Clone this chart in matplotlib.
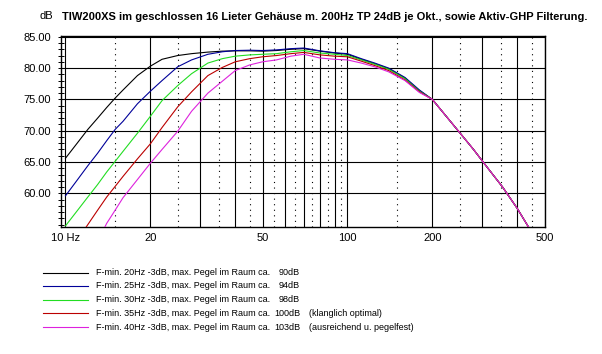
import matplotlib
matplotlib.use('Agg')
import matplotlib.pyplot as plt
from matplotlib.lines import Line2D
from matplotlib.ticker import FixedLocator, FixedFormatter, MultipleLocator, NullFormatter

W, H, DPI = 602, 354, 100

# frequency grid (Hz) shared by all curves
freq = [10, 11, 12, 13, 14, 15, 16, 18, 20, 22, 25, 28, 32, 36, 40, 45, 50, 56, 63, 70, 80, 90,
        100, 112, 125, 140, 160, 180, 200, 225, 250, 280, 315, 355, 400, 450, 500]

tail = [75.0, 72.2, 69.7, 67.0, 64.0, 61.0, 57.6, 53.8, 50.0]   # 200..500 Hz, all curves

spl_20 = [65.6, 68.0, 70.2, 72.0, 73.7, 75.2, 76.5, 78.8, 80.3, 81.4, 82.0, 82.3, 82.55, 82.7,
          82.75, 82.75, 82.7, 82.8, 83.0, 83.1, 82.7, 82.4,
          82.2, 81.4, 80.7, 79.9, 78.4, 76.4] + tail
spl_25 = [59.6, 62.1, 64.4, 66.4, 68.4, 70.2, 71.5, 74.3, 76.3, 78.0, 80.2, 81.3, 82.2, 82.6,
          82.8, 82.85, 82.8, 82.9, 83.1, 83.2, 82.75, 82.45,
          82.3, 81.5, 80.8, 80.0, 78.5, 76.5] + tail
spl_30 = [54.8, 57.2, 59.4, 61.4, 63.4, 65.1, 66.7, 69.6, 72.3, 74.8, 77.2, 79.1, 80.8, 81.5,
          81.9, 82.1, 82.2, 82.3, 82.6, 82.8, 82.4, 82.2,
          82.0, 81.3, 80.6, 79.8, 78.3, 76.3] + tail
spl_35 = [50.0, 52.5, 55.0, 57.3, 59.4, 61.1, 62.7, 65.5, 67.9, 70.5, 73.8, 76.2, 78.8, 80.1,
          81.0, 81.5, 81.8, 82.0, 82.3, 82.5, 82.1, 81.9,
          81.8, 81.1, 80.4, 79.6, 78.1, 76.2] + tail
spl_40 = [46.0, 48.0, 50.0, 52.3, 55.2, 57.3, 59.3, 62.2, 64.8, 67.0, 69.9, 73.1, 76.0, 77.9,
          79.6, 80.5, 81.0, 81.3, 81.9, 82.2, 81.6, 81.4,
          81.3, 80.8, 80.2, 79.4, 78.0, 76.1] + tail

curves = [spl_20, spl_25, spl_30, spl_35, spl_40]
colors = ['#000000', '#000099', '#22dd22', '#bb0000', '#dd22dd']
legend_main = ['F-min. 20Hz -3dB, max. Pegel im Raum ca.',
               'F-min. 25Hz -3dB, max. Pegel im Raum ca.',
               'F-min. 30Hz -3dB, max. Pegel im Raum ca.',
               'F-min. 35Hz -3dB, max. Pegel im Raum ca.',
               'F-min. 40Hz -3dB, max. Pegel im Raum ca.']
legend_level = ['90dB', '94dB', '98dB', '100dB', '103dB']
legend_note = ['', '', '', '(klanglich optimal)', '(ausreichend u. pegelfest)']

title = 'TIW200XS im geschlossen 16 Lieter Gehäuse m. 200Hz TP 24dB je Okt., sowie Aktiv-GHP Filterung.'

solid_f = [10, 20, 30, 40, 50, 60, 70, 80, 90, 100, 200, 300, 400, 500]
solid_lbl = ['10 Hz', '20', '', '', '50', '', '', '', '', '100', '200', '', '', '500']
dotted_f = [15, 25, 35, 45, 55, 65, 75, 85, 95, 150, 250, 350, 450]
y_major = [60, 65, 70, 75, 80, 85]

plt.rcParams['font.family'] = ['Liberation Sans', 'DejaVu Sans']

fig = plt.figure(figsize=(W / DPI, H / DPI), dpi=DPI)
fig.patch.set_facecolor('white')


def px(x0, y0, x1, y1):
    return [x0 / W, 1 - y1 / H, (x1 - x0) / W, (y1 - y0) / H]


ax = fig.add_axes(px(61, 35.5, 544.5, 227.3))
ax.set_xscale('log')
ax.set_xlim(9.64, 500)
ax.set_ylim(54.57, 85.2)

for f in dotted_f:
    ax.axvline(f, color='black', lw=0.8, ls=(0, (1, 4)), zorder=1)

for spl, c in zip(curves, colors):
    ax.plot(freq, spl, color=c, lw=0.8, zorder=3)

ax.xaxis.set_major_locator(FixedLocator(solid_f))
ax.xaxis.set_major_formatter(FixedFormatter(solid_lbl))
ax.xaxis.set_minor_locator(FixedLocator([]))
ax.xaxis.set_minor_formatter(NullFormatter())
ax.yaxis.set_major_locator(FixedLocator(y_major))
ax.yaxis.set_major_formatter(FixedFormatter(['%.2f' % v for v in y_major]))
ax.yaxis.set_minor_locator(MultipleLocator(1))
ax.grid(True, which='major', color='black', lw=0.8, zorder=2)
ax.tick_params(axis='x', length=0, pad=4, labelsize=8)
ax.tick_params(axis='y', which='both', direction='inout', length=4, width=0.7, pad=5, labelsize=8)
for s in ax.spines.values():
    s.set_linewidth(1.0)

fig.text(40 / W, 1 - 16 / H, 'dB', fontsize=8, ha='left', va='center')
t = fig.text(62 / W, 1 - 17.5 / H, title, fontsize=8, fontweight='bold', ha='left', va='center',
             family=['Liberation Sans Narrow', 'Liberation Sans', 'DejaVu Sans'])

fig.canvas.draw()
r = fig.canvas.get_renderer()
t.set_fontsize(t.get_fontsize() * 525 / t.get_window_extent(r).width)

# legend block
rows_y = [272.7, 286, 300, 313.3, 327.3]
probe = fig.text(96 / W, 0, legend_main[0], fontsize=7)
fig.canvas.draw()
lsize = 7 * 173 / probe.get_window_extent(r).width
probe.remove()
for yy, c, m, lv, nt in zip(rows_y, colors, legend_main, legend_level, legend_note):
    fy = 1 - yy / H
    fig.add_artist(Line2D([43 / W, 87.5 / W], [fy, fy], color=c, lw=0.8))
    fig.text(96 / W, fy, m, fontsize=lsize, ha='left', va='center')
    fig.text(300 / W, fy, lv, fontsize=lsize, ha='right', va='center')
    if nt:
        fig.text(309 / W, fy, nt, fontsize=lsize, ha='left', va='center')

fig.savefig('out.png', dpi=DPI)
